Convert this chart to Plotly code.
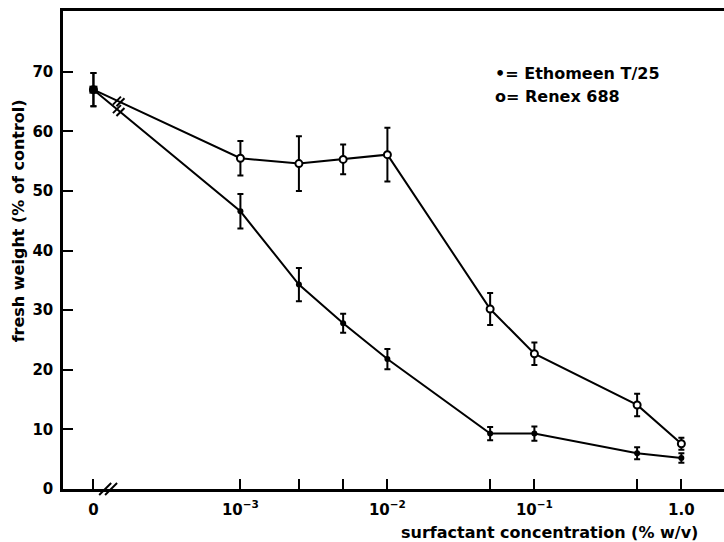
import math
import plotly.graph_objects as go

# Surfactant concentration (% w/v); 0 is the untreated control
concentration = [0, 1e-3, 2.5e-3, 5e-3, 1e-2, 5e-2, 1e-1, 0.5, 1.0]

# Fresh weight (% of control) and standard errors
ethomeen_mean = [67.0, 46.6, 34.3, 27.8, 21.8, 9.3, 9.3, 6.0, 5.2]
ethomeen_err = [2.8, 2.9, 2.8, 1.6, 1.7, 1.1, 1.2, 1.0, 0.8]
renex_mean = [67.0, 55.5, 54.6, 55.3, 56.1, 30.2, 22.7, 14.1, 7.6]
renex_err = [2.8, 2.9, 4.6, 2.5, 4.5, 2.7, 1.9, 1.9, 1.0]

# Labelled decades and the unlabelled intermediate concentrations
x_major = [0, 1e-3, 1e-2, 1e-1, 1.0]
x_tick_text = ["0", "10<sup>\u22123</sup>", "10<sup>\u22122</sup>",
               "10<sup>\u22121</sup>", "1.0"]
x_minor = [2.5e-3, 5e-3, 5e-2, 0.5]
y_ticks = [0, 10, 20, 30, 40, 50, 60, 70]

# The control (0) sits one decade left of the first concentration on the log axis
ZERO_POS = 1e-4
BREAK_LOG = -3.9        # axis break between 0 and 10^-3
LINE_BREAK_LOG = -3.828  # break marks on the first segment of each curve

FONT = "DejaVu Sans"


def plot_x(values):
    return [ZERO_POS if v == 0 else v for v in values]


def point_on_first_segment(means, log_x):
    lx0 = math.log10(ZERO_POS)
    lx1 = math.log10(concentration[1])
    t = (log_x - lx0) / (lx1 - lx0)
    return means[0] + (means[1] - means[0]) * t


xs = plot_x(concentration)
line_style = dict(color="black", width=2)
err_style = dict(color="black", thickness=2, width=3)

fig = go.Figure()

fig.add_trace(go.Scatter(
    x=xs, y=renex_mean, mode="lines+markers", name="Renex 688",
    line=line_style,
    marker=dict(symbol="circle", size=7, color="white",
                line=dict(color="black", width=2)),
    error_y=dict(type="data", array=renex_err, visible=True, **err_style),
))
fig.add_trace(go.Scatter(
    x=xs, y=ethomeen_mean, mode="lines+markers", name="Ethomeen T/25",
    line=line_style,
    marker=dict(symbol="circle", size=6, color="black"),
    error_y=dict(type="data", array=ethomeen_err, visible=True, **err_style),
))

# Control point drawn as a solid square where both curves start
fig.add_trace(go.Scatter(
    x=[xs[0]], y=[ethomeen_mean[0]], mode="markers", hoverinfo="skip",
    marker=dict(symbol="square", size=8, color="black"),
))

# Break marks crossing the curves between the control and 10^-3
mark_x, mark_y = [], []
for means in (renex_mean, ethomeen_mean):
    for dx in (-0.012, 0.012):
        lx = LINE_BREAK_LOG + dx
        mark_x.append(10 ** lx)
        mark_y.append(point_on_first_segment(means, lx))
fig.add_trace(go.Scatter(
    x=mark_x, y=mark_y, mode="markers", hoverinfo="skip",
    marker=dict(symbol="line-ne", size=8, line=dict(color="black", width=2)),
))

# Axis break on the x axis
fig.add_trace(go.Scatter(
    x=[10 ** (BREAK_LOG - 0.02), 10 ** (BREAK_LOG + 0.02)], y=[0, 0],
    mode="markers", hoverinfo="skip", cliponaxis=False,
    marker=dict(symbol="line-ne", size=12, line=dict(color="black", width=2)),
))

tick_font = dict(family=FONT, size=15, color="black", weight="bold")
label_font = dict(family=FONT, size=16, color="black", weight="bold")

fig.update_layout(
    width=724, height=542,
    margin=dict(l=63, r=0, t=11, b=53),
    paper_bgcolor="white", plot_bgcolor="white",
    showlegend=False,
    font=dict(family=FONT, size=14, color="black"),
    xaxis=dict(
        type="log", range=[-4.207, 0.29],
        tickvals=plot_x(x_major), ticktext=x_tick_text,
        ticks="inside", ticklen=10, tickwidth=2, tickcolor="black",
        minor=dict(tickvals=x_minor, ticks="inside", ticklen=10,
                   tickwidth=2, tickcolor="black", showgrid=False),
        showline=True, linewidth=2.5, linecolor="black", mirror=True,
        showgrid=False, zeroline=False,
        tickfont=tick_font, ticklabelstandoff=5,
    ),
    yaxis=dict(
        range=[0, 80.2], tickvals=y_ticks,
        ticks="inside", ticklen=10, tickwidth=2, tickcolor="black",
        showline=True, linewidth=2.5, linecolor="black",
        showgrid=False, zeroline=False,
        tickfont=tick_font, ticklabelstandoff=4,
    ),
    annotations=[
        dict(text="\u2022= Ethomeen T/25", xref="paper", yref="paper",
             x=0.65, y=0.870, xanchor="left", yanchor="middle", showarrow=False,
             font=label_font),
        dict(text="o= Renex 688", xref="paper", yref="paper",
             x=0.65, y=0.822, xanchor="left", yanchor="middle", showarrow=False,
             font=label_font),
        dict(text="surfactant concentration (% w/v)", xref="paper", yref="paper",
             x=0.963, y=-0.092, xanchor="right", yanchor="middle", showarrow=False,
             font=label_font),
        dict(text="fresh weight (% of control)", xref="paper", yref="paper",
             x=-0.068, y=0.56, xanchor="center", yanchor="middle", showarrow=False,
             textangle=-90, font=label_font),
    ],
)

fig.write_html("out.html")
